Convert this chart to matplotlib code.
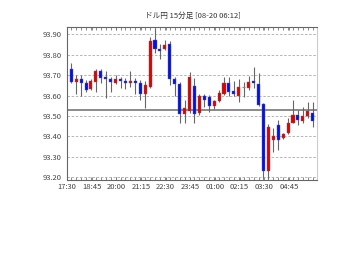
import matplotlib
matplotlib.use("Agg")
from matplotlib import pyplot as plt
from matplotlib.ticker import MultipleLocator, FormatStrFormatter

title = "ドル円 15分足 [08-20 06:12]"

time_labels = ["17:30", "18:45", "20:00", "21:15", "22:30",
               "23:45", "01:00", "02:15", "03:30", "04:45"]

opens = [93.730, 93.668, 93.680, 93.660, 93.630, 93.668, 93.720, 93.690, 93.680, 93.660,
         93.680, 93.670, 93.660, 93.671, 93.660, 93.610, 93.640, 93.870, 93.830, 93.828,
         93.852, 93.680, 93.656, 93.510, 93.524, 93.645, 93.515, 93.600, 93.593, 93.547,
         93.572, 93.607, 93.660, 93.622, 93.600, 93.640, 93.636, 93.672, 93.656, 93.558,
         93.230, 93.380, 93.455, 93.390, 93.415, 93.467, 93.505, 93.476, 93.500, 93.516]
highs = [93.760, 93.700, 93.700, 93.675, 93.680, 93.730, 93.730, 93.720, 93.690, 93.700,
         93.690, 93.685, 93.720, 93.685, 93.677, 93.673, 93.888, 93.930, 93.855, 93.870,
         93.865, 93.690, 93.665, 93.578, 93.717, 93.688, 93.610, 93.610, 93.603, 93.580,
         93.627, 93.690, 93.690, 93.670, 93.680, 93.668, 93.697, 93.740, 93.710, 93.565,
         93.460, 93.440, 93.480, 93.415, 93.490, 93.578, 93.530, 93.545, 93.567, 93.567]
lows = [93.660, 93.610, 93.600, 93.620, 93.625, 93.620, 93.660, 93.590, 93.620, 93.655,
        93.635, 93.630, 93.640, 93.610, 93.580, 93.540, 93.635, 93.807, 93.778, 93.823,
        93.650, 93.600, 93.465, 93.465, 93.515, 93.465, 93.505, 93.545, 93.520, 93.532,
        93.568, 93.602, 93.600, 93.598, 93.570, 93.595, 93.628, 93.635, 93.550, 93.195,
        93.190, 93.325, 93.333, 93.385, 93.410, 93.465, 93.455, 93.465, 93.490, 93.445]
closes = [93.668, 93.680, 93.660, 93.628, 93.670, 93.720, 93.685, 93.680, 93.668, 93.680,
          93.670, 93.660, 93.672, 93.660, 93.607, 93.652, 93.868, 93.827, 93.820, 93.848,
          93.681, 93.658, 93.509, 93.540, 93.692, 93.510, 93.600, 93.580, 93.547, 93.573,
          93.612, 93.660, 93.617, 93.609, 93.640, 93.640, 93.668, 93.660, 93.555, 93.230,
          93.445, 93.400, 93.380, 93.412, 93.467, 93.505, 93.480, 93.500, 93.525, 93.476]

prev_close = 93.53

plt.rcParams["font.family"] = ["Noto Sans CJK JP", "DejaVu Sans"]

fig = plt.figure(figsize=(3.6, 2.7), dpi=100)
ax = fig.add_axes([0.186, 0.333, 0.695, 0.567])

x = list(range(len(opens)))

# wicks
ax.vlines(x, lows, highs, color="#666666", linewidth=0.8, zorder=3)

# bodies (red = up, blue = down, grey dash = unchanged)
for i in x:
    o = opens[i]
    c = closes[i]
    if c > o:
        col = "#e00000"
    elif c < o:
        col = "#0010f0"
    else:
        ax.hlines(o, i - 0.3, i + 0.3, color="#888888", linewidth=0.8, zorder=4)
        continue
    ax.bar(i, abs(c - o), bottom=min(o, c), width=0.62, color=col,
           edgecolor="#666666", linewidth=0.3, zorder=4)

ax.axhline(prev_close, color="#8a8a8a", linewidth=1.4, zorder=2)

ax.set_xlim(-0.87, 49.9)
ax.set_ylim(93.186, 93.936)

ax.yaxis.set_major_locator(MultipleLocator(0.1))
ax.yaxis.set_major_formatter(FormatStrFormatter("%.2f"))
ax.grid(axis="y", linestyle=(0, (3, 2)), color="#aaaaaa", linewidth=0.6)

ax.set_xticks([i * 5 - 0.85 for i in range(len(time_labels))])
ax.set_xticklabels(time_labels)
ax.xaxis.set_minor_locator(MultipleLocator(1))
ax.tick_params(axis="x", which="both", direction="in", top=True, bottom=True,
               length=2.5, width=0.6, color="#777777")
ax.tick_params(axis="x", which="major", labelsize=5.5, labelcolor="#444444", pad=2)
ax.tick_params(axis="y", length=0, labelsize=5.5, labelcolor="#444444", pad=4)

for s in ["left", "bottom", "top"]:
    ax.spines[s].set_color("#666666")
    ax.spines[s].set_linewidth(0.8)
ax.spines["right"].set_color("#cccccc")
ax.spines["right"].set_linewidth(0.8)

fig.text(0.535, 0.925, title, ha="center", va="bottom", fontsize=5.5, color="#333333")

fig.savefig("out.png", dpi=100)
